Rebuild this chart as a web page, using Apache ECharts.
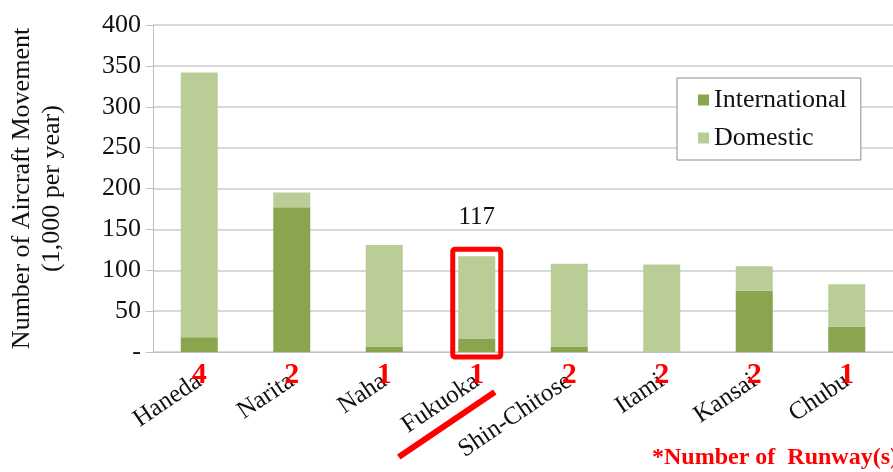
<!DOCTYPE html>
<html>
<head>
<meta charset="utf-8">
<script src="https://cdn.jsdelivr.net/npm/echarts@6/dist/echarts.min.js"></script>
<style>
  html, body { margin: 0; padding: 0; background: #fff; }
  #chart { width: 893px; height: 472px; }
</style>
</head>
<body>
<div id="chart"></div>
<script>
const airports = ['Haneda', 'Narita', 'Naha', 'Fukuoka', 'Shin-Chitose', 'Itami', 'Kansai', 'Chubu'];
const international = [18, 177, 6, 16, 6, 0, 75, 31];
const domestic = [324, 18, 125, 101, 102, 107, 30, 52];
const runways = ['4', '2', '1', '1', '2', '2', '2', '1'];
const highlight = 'Fukuoka';

const serif = '"Liberation Serif", "DejaVu Serif", serif';
const totals = international.map((v, i) => v + domestic[i]);
const hi = airports.indexOf(highlight);

const chart = echarts.init(document.getElementById('chart'));

const option = {
  backgroundColor: '#fff',
  animation: false,
  grid: { left: 153, right: 0, top: 25, bottom: 120, outerBoundsMode: 'none' },
  legend: {
    orient: 'vertical',
    left: 677, top: 78,
    padding: [9, 14, 9, 21],
    itemGap: 12,
    itemWidth: 11, itemHeight: 11,
    icon: 'rect',
    backgroundColor: '#fff',
    borderColor: '#8c8c8c',
    borderWidth: 1,
    textStyle: { fontFamily: serif, fontSize: 26, color: '#111' },
    data: ['International', 'Domestic']
  },
  xAxis: [{
    type: 'category',
    data: airports,
    axisLine: { lineStyle: { color: '#bfbfbf' } },
    axisTick: { length: 7, lineStyle: { color: '#bfbfbf' } },
    axisLabel: { rotate: 34, margin: 27, fontFamily: serif, fontSize: 25, color: '#111', interval: 0 }
  }, {
    type: 'category',
    position: 'bottom',
    data: runways,
    axisLine: { show: false },
    axisTick: { show: false },
    splitLine: { show: false },
    axisLabel: { margin: 8, fontFamily: serif, fontSize: 30, fontWeight: 'bold', color: '#ff0000', interval: 0 }
  }],
  yAxis: {
    type: 'value',
    min: 0, max: 400, interval: 50,
    name: 'Number of Aircraft Movement\n(1,000 per year)',
    nameLocation: 'middle',
    nameGap: 86,
    nameTextStyle: { fontFamily: serif, fontSize: 26, color: '#111', lineHeight: 30 },
    axisLine: { show: true, lineStyle: { color: '#bfbfbf' } },
    axisTick: { show: true, length: 7, lineStyle: { color: '#bfbfbf' } },
    splitLine: { lineStyle: { color: '#d9d9d9', width: 2 } },
    axisLabel: {
      margin: 12, fontFamily: serif, fontSize: 26, color: '#111',
      formatter: (v) => (v === 0 ? '-' : String(v))
    }
  },
  series: [{
    name: 'International',
    type: 'bar',
    stack: 'total',
    barWidth: '40%',
    itemStyle: { color: '#89a54e' },
    data: international
  }, {
    name: 'Domestic',
    type: 'bar',
    stack: 'total',
    barWidth: '40%',
    itemStyle: { color: '#bacd96' },
    data: domestic.map((v, i) => i === hi ? {
      value: v,
      label: {
        show: true, position: 'top', distance: 26,
        fontFamily: serif, fontSize: 25, color: '#111',
        formatter: () => String(totals[i])
      }
    } : v)
  }]
};

chart.setOption(option);

// annotation around the highlighted airport, placed from the axes
const cx = chart.convertToPixel({ xAxisIndex: 0 }, highlight);
const yTop = chart.convertToPixel({ yAxisIndex: 0 }, totals[hi]);
const y0 = chart.convertToPixel({ yAxisIndex: 0 }, 0);
chart.setOption({
  graphic: [{
    type: 'rect',
    shape: { x: cx - 24, y: yTop - 7, width: 48, height: y0 - yTop + 12, r: 2 },
    style: { fill: 'none', stroke: '#ff0000', lineWidth: 5 },
    z: 100
  }, {
    type: 'line',
    shape: { x1: cx - 78, y1: y0 + 105, x2: cx + 18, y2: y0 + 40 },
    style: { stroke: '#ff0000', lineWidth: 6 },
    z: 100
  }, {
    type: 'text',
    left: 652, top: 446,
    style: {
      text: '*Number of  Runway(s)',
      font: 'bold 24px ' + serif,
      fill: '#ff0000'
    },
    z: 100
  }]
});
</script>
</body>
</html>
